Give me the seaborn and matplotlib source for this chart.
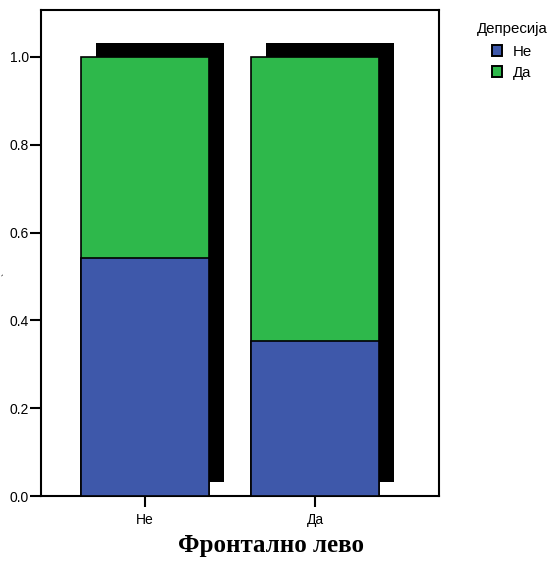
import numpy as np
import pandas as pd
import matplotlib
matplotlib.use("Agg")
import matplotlib.pyplot as plt
import matplotlib.transforms as mtransforms
from matplotlib.patches import Patch
import seaborn as sns

# Stacked proportions of depression by frontal-left category
categories = ["Не", "Да"]
depression_no = [0.542, 0.353]
depression_yes = [0.458, 0.647]
legend_title = "Депресија"
series_names = ["Не", "Да"]
y_ticks = [0.0, 0.2, 0.4, 0.6, 0.8, 1.0]

blue = "#3E58AA"
green = "#2EB84B"

sns.set_theme(style="white")
plt.rcParams["font.family"] = ["Liberation Sans", "DejaVu Sans"]
plt.rcParams.update({"text.color": "black", "axes.labelcolor": "black",
                     "xtick.color": "black", "ytick.color": "black"})

df = pd.DataFrame({
    "cat": categories,
    "no": depression_no,
    "total": np.array(depression_no) + np.array(depression_yes),
})

fig = plt.figure(figsize=(5.49, 5.61), dpi=100)
ax = fig.add_axes([41 / 549, 65 / 561, 398 / 549, 486 / 561])

bw = 0.753
# drop shadow behind each full bar
shadow = mtransforms.ScaledTranslation(0.15, 0.14, fig.dpi_scale_trans)
ax.bar(np.arange(len(categories)), df["total"], width=bw, color="black",
       linewidth=0, transform=ax.transData + shadow, zorder=1)

sns.barplot(data=df, x="cat", y="total", color=green, width=bw,
            edgecolor="black", linewidth=1.2, saturation=1, ax=ax, zorder=2)
sns.barplot(data=df, x="cat", y="no", color=blue, width=bw,
            edgecolor="black", linewidth=1.2, saturation=1, ax=ax, zorder=3)

ax.set_xlim(-0.612, 1.73)
ax.set_ylim(0, 1.107)
ax.set_yticks(y_ticks)
ax.set_yticklabels([f"{t:.1f}" for t in y_ticks], fontsize=10)
ax.set_xticks(range(len(categories)))
ax.set_xticklabels(categories, fontsize=10)
ax.tick_params(axis="both", which="both", direction="out", length=8, width=1.5,
               pad=0.5, left=True, bottom=True)
ax.tick_params(axis="x", length=8, pad=4)

for s in ax.spines.values():
    s.set_visible(True)
    s.set_color("black")
    s.set_linewidth(1.5)

ax.set_xlabel("Фронтално лево", fontsize=18, fontweight="bold",
              family=["Liberation Serif", "DejaVu Serif"])
ax.xaxis.set_label_coords(0.578, -0.078)
ax.set_ylabel("")
fig.text(3 / 549, 1 - 274 / 561, "`", fontsize=7, ha="left", va="center",
         rotation=90)

handles = [Patch(facecolor=blue, edgecolor="black", linewidth=1.4),
           Patch(facecolor=green, edgecolor="black", linewidth=1.4)]
leg = fig.legend(handles, series_names, title=legend_title, frameon=False,
                 loc="upper left", bbox_to_anchor=(466 / 549, 1 - 12 / 561),
                 fontsize=10.8, title_fontsize=10.8, handlelength=0.7,
                 handleheight=0.7, handletextpad=0.7, labelspacing=0.45,
                 borderpad=0.2)
leg._legend_box.align = "center"
leg._legend_box.sep = 6

fig.savefig("out.png", dpi=100)
